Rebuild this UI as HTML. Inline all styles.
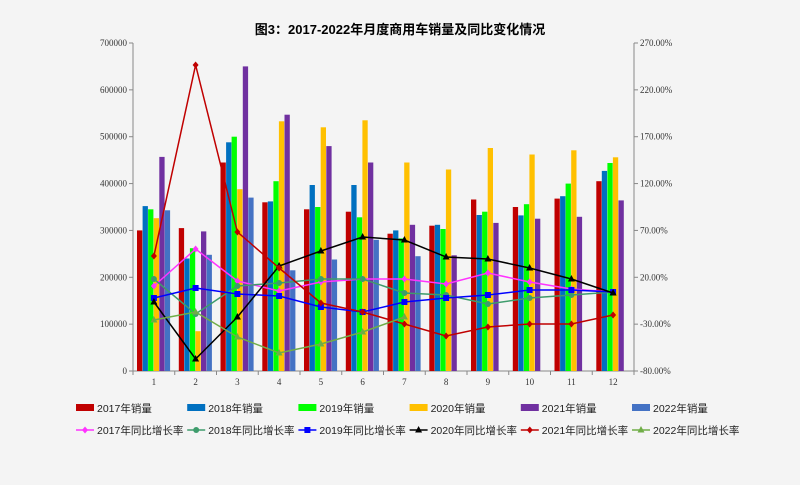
<!DOCTYPE html>
<html><head><meta charset="utf-8">
<style>
html,body{margin:0;padding:0;background:#f4f4f4;}
svg{display:block;font-family:"Liberation Sans","Noto Sans CJK SC",sans-serif;}
</style></head>
<body>
<svg id="c" width="800" height="485" xmlns="http://www.w3.org/2000/svg">
<rect width="800" height="485" fill="#f4f4f4"/>
<text x="400" y="34" text-anchor="middle" font-size="13" font-weight="bold" fill="#000">图3：2017-2022年月度商用车销量及同比变化情况</text>
<g id="g"></g>
</svg>
<script>
var g=document.getElementById('g'),s='';
var L=133,R=634,T=43,B=371,cw=(R-L)/12;
function Y(v){return B-v/700000*(B-T);}
s+='<line x1="'+L+'" y1="'+T+'" x2="'+L+'" y2="'+B+'" stroke="#888"/>';
s+='<line x1="'+R+'" y1="'+T+'" x2="'+R+'" y2="'+B+'" stroke="#888"/>';
s+='<line x1="'+L+'" y1="'+B+'" x2="'+R+'" y2="'+B+'" stroke="#888"/>';
for(var i=0;i<=7;i++){var y=B-i*(B-T)/7;
s+='<line x1="'+(L-4)+'" y1="'+y+'" x2="'+L+'" y2="'+y+'" stroke="#888"/>';
s+='<text x="'+(L-6)+'" y="'+(y+3)+'" text-anchor="end" font-size="9" font-family="Liberation Serif,serif" fill="#333">'+(i*100000)+'</text>';
s+='<line x1="'+R+'" y1="'+y+'" x2="'+(R+4)+'" y2="'+y+'" stroke="#888"/>';
s+='<text x="'+(R+6)+'" y="'+(y+3)+'" font-size="9" font-family="Liberation Serif,serif" fill="#333">'+(-80+i*50).toFixed(2)+'%</text>';}
for(var i=0;i<=12;i++){var x=L+i*cw;s+='<line x1="'+x+'" y1="'+B+'" x2="'+x+'" y2="'+(B+4)+'" stroke="#888"/>';}
for(var i=0;i<12;i++){s+='<text x="'+(L+cw*(i+0.5))+'" y="'+(B+14)+'" text-anchor="middle" font-size="9" font-family="Liberation Serif,serif" fill="#333">'+(i+1)+'</text>';}
var cols=['#c00000','#0070c0','#00ff00','#ffc000','#7030a0','#4472c4'];
var D=[[300000,305000,445000,360000,345000,340000,293000,310000,366000,350000,368000,405000],
[352000,240000,488000,362000,397000,397000,300000,312000,333000,332000,373000,427000],
[345000,262000,500000,405000,350000,328000,283000,303000,340000,356000,400000,444000],
[326000,85000,388000,533000,520000,535000,445000,430000,476000,462000,471000,456000],
[457000,298000,650000,547000,480000,445000,312000,247000,316000,325000,329000,364000],
[343000,248000,370000,215000,238000,280000,245000]];
var bw=5.3;
for(var k=0;k<6;k++)for(var i=0;i<D[k].length;i++){var x=L+i*cw+4+k*bw*1.05;var y=Y(D[k][i]);
s+='<rect x="'+x.toFixed(1)+'" y="'+y.toFixed(1)+'" width="'+bw+'" height="'+(B-y).toFixed(1)+'" fill="'+cols[k]+'"/>';}
var Ls=[
['#ff33ff','d',[286,249,281,291,282,279,279,284,273,282,289,292]],
['#3e9c6c','c',[279,314,286,283,279,279,293,295,304,298,295,292]],
['#0000ff','s',[298,288,294,296,307,312,302,298,295,290,290,292]],
['#000000','t',[302,359,317,266,251,237,240,257,259,268,279,293]],
['#c00000','d',[256,65,232,268,303,312,324,336,327,324,324,315]],
['#70ad47','t',[320,312,337,353,344,332,317]]];
function mk(t,x,y,c){if(t=='d')return '<polygon points="'+x+','+(y-3.5)+' '+(x+3)+','+y+' '+x+','+(y+3.5)+' '+(x-3)+','+y+'" fill="'+c+'"/>';
if(t=='c')return '<circle cx="'+x+'" cy="'+y+'" r="3" fill="'+c+'"/>';
if(t=='s')return '<rect x="'+(x-3)+'" y="'+(y-3)+'" width="6" height="6" fill="'+c+'"/>';
return '<polygon points="'+x+','+(y-4)+' '+(x+3.5)+','+(y+2.5)+' '+(x-3.5)+','+(y+2.5)+'" fill="'+c+'"/>';}
Ls.forEach(function(l){var p=l[2].map(function(y,i){return (L+cw*(i+0.5)).toFixed(1)+','+y;}).join(' ');
s+='<polyline points="'+p+'" fill="none" stroke="'+l[0]+'" stroke-width="1.5"/>';
l[2].forEach(function(y,i){s+=mk(l[1],+(L+cw*(i+0.5)).toFixed(1),y,l[0]);});});
for(var k=0;k<6;k++){var x=76+k*111.2;
s+='<rect x="'+x+'" y="404" width="18" height="7" fill="'+cols[k]+'"/>';
s+='<text x="'+(x+21)+'" y="412" font-size="10.5" fill="#222">'+(2017+k)+'年销量</text>';
s+='<line x1="'+x+'" y1="430" x2="'+(x+18)+'" y2="430" stroke="'+Ls[k][0]+'" stroke-width="1.5"/>'+mk(Ls[k][1],x+9,430,Ls[k][0]);
s+='<text x="'+(x+21)+'" y="434" font-size="10.5" fill="#222">'+(2017+k)+'年同比增长率</text>';}
g.innerHTML=s;
</script>
</body></html>
